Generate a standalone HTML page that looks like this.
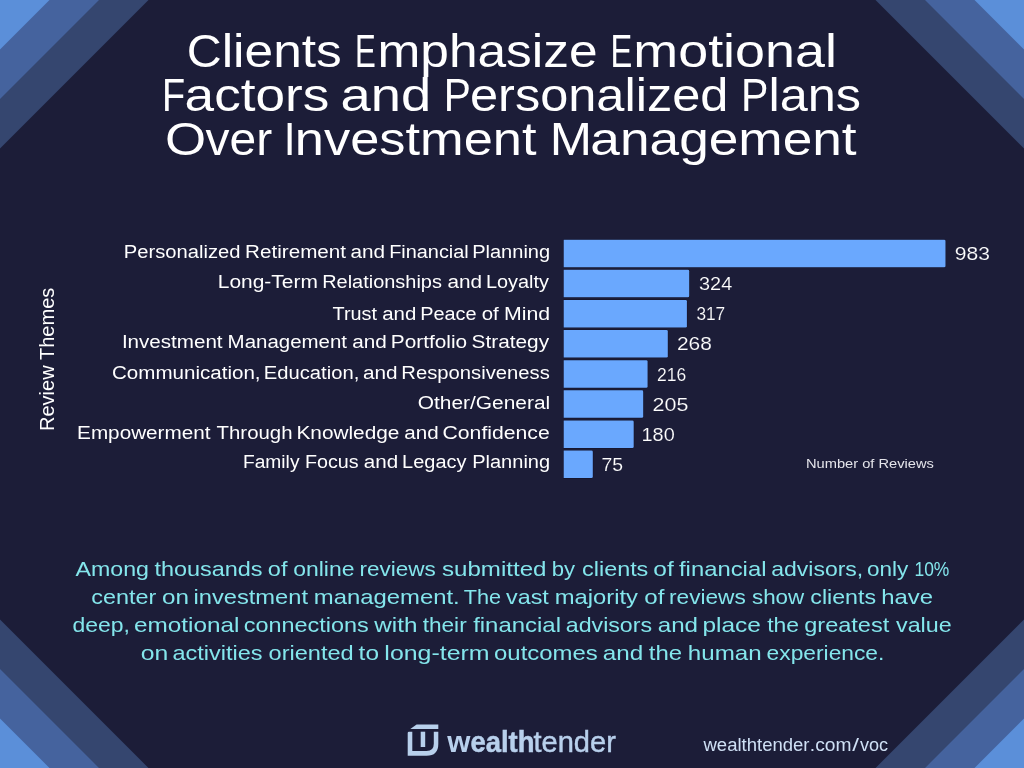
<!DOCTYPE html>
<html><head><meta charset="utf-8"><title>Clients Emphasize Emotional Factors</title>
<style>
html,body{margin:0;padding:0;background:#1c1d38}
body{width:1024px;height:768px;overflow:hidden}
svg{display:block;will-change:transform;font-family:"Liberation Sans",sans-serif}
</style></head><body>
<svg width="1024" height="768" viewBox="0 0 1024 768">
<rect width="1024" height="768" fill="#1c1d38"/>
<path fill="#35466f" d="M0 0H148.5L0 148.5Z M1024 0H875.5L1024 148.5Z M0 768H148.5L0 619.5Z M1024 768H875.5L1024 619.5Z"/>
<path fill="#45639e" d="M0 0H99L0 99Z M1024 0H925L1024 99Z M0 768H99L0 669Z M1024 768H925L1024 669Z"/>
<path fill="#5b8fd9" d="M0 0H49.5L0 49.5Z M1024 0H974.5L1024 49.5Z M0 768H49.5L0 718.5Z M1024 768H974.5L1024 718.5Z"/>
<path fill="#6aa8fe" stroke="#151329" stroke-width="1" paint-order="stroke" d="M563.7 239.7H944.2Q945.5 239.7 945.5 241V265.9Q945.5 267.2 944.2 267.2H563.7Z"/>
<path fill="#6aa8fe" stroke="#151329" stroke-width="1" paint-order="stroke" d="M563.7 269.83H687.9Q689.2 269.83 689.2 271.13V296.03Q689.2 297.33 687.9 297.33H563.7Z"/>
<path fill="#6aa8fe" stroke="#151329" stroke-width="1" paint-order="stroke" d="M563.7 299.96H685.6Q686.9 299.96 686.9 301.26V326.16Q686.9 327.46 685.6 327.46H563.7Z"/>
<path fill="#6aa8fe" stroke="#151329" stroke-width="1" paint-order="stroke" d="M563.7 330.09H666.5Q667.8 330.09 667.8 331.39V356.29Q667.8 357.59 666.5 357.59H563.7Z"/>
<path fill="#6aa8fe" stroke="#151329" stroke-width="1" paint-order="stroke" d="M563.7 360.22H646.3Q647.6 360.22 647.6 361.52V386.42Q647.6 387.72 646.3 387.72H563.7Z"/>
<path fill="#6aa8fe" stroke="#151329" stroke-width="1" paint-order="stroke" d="M563.7 390.35H641.9Q643.2 390.35 643.2 391.65V416.55Q643.2 417.85 641.9 417.85H563.7Z"/>
<path fill="#6aa8fe" stroke="#151329" stroke-width="1" paint-order="stroke" d="M563.7 420.48H632.4Q633.7 420.48 633.7 421.78V446.68Q633.7 447.98 632.4 447.98H563.7Z"/>
<path fill="#6aa8fe" stroke="#151329" stroke-width="1" paint-order="stroke" d="M563.7 450.61H591.5Q592.8 450.61 592.8 451.91V476.81Q592.8 478.11 591.5 478.11H563.7Z"/>
<text x="186.83" y="66.6" font-size="45.6" fill="#fff" textLength="34.97" lengthAdjust="spacingAndGlyphs">C</text>
<text x="221.65" y="66.6" font-size="46.5" fill="#fff" textLength="120.15" lengthAdjust="spacingAndGlyphs">lients</text>
<text x="355.00" y="66.6" font-size="45.6" fill="#fff" textLength="20.81" lengthAdjust="spacingAndGlyphs">E</text>
<text x="377.41" y="66.6" font-size="46.5" fill="#fff" textLength="220.21" lengthAdjust="spacingAndGlyphs">mphasize</text>
<text x="610.39" y="66.6" font-size="45.6" fill="#fff" textLength="21.78" lengthAdjust="spacingAndGlyphs">E</text>
<text x="633.30" y="66.6" font-size="46.5" fill="#fff" textLength="203.65" lengthAdjust="spacingAndGlyphs">motional</text>
<text x="161.97" y="110.7" font-size="45.6" fill="#fff" textLength="23.14" lengthAdjust="spacingAndGlyphs">F</text>
<text x="184.62" y="110.7" font-size="46.5" fill="#fff" textLength="144.74" lengthAdjust="spacingAndGlyphs">actors</text>
<text x="340.63" y="110.7" font-size="46.5" fill="#fff" textLength="90.59" lengthAdjust="spacingAndGlyphs">and</text>
<text x="443.75" y="110.7" font-size="45.6" fill="#fff" textLength="27.12" lengthAdjust="spacingAndGlyphs">P</text>
<text x="469.98" y="110.7" font-size="46.5" fill="#fff" textLength="258.41" lengthAdjust="spacingAndGlyphs">ersonalized</text>
<text x="740.96" y="110.7" font-size="45.6" fill="#fff" textLength="27.43" lengthAdjust="spacingAndGlyphs">P</text>
<text x="768.47" y="110.7" font-size="46.5" fill="#fff" textLength="92.60" lengthAdjust="spacingAndGlyphs">lans</text>
<text x="165.12" y="154.9" font-size="45.6" fill="#fff" textLength="41.16" lengthAdjust="spacingAndGlyphs">O</text>
<text x="205.50" y="154.9" font-size="46.5" fill="#fff" textLength="66.62" lengthAdjust="spacingAndGlyphs">ver</text>
<text x="283.68" y="154.9" font-size="45.6" fill="#fff" textLength="11.81" lengthAdjust="spacingAndGlyphs">I</text>
<text x="294.85" y="154.9" font-size="46.5" fill="#fff" textLength="241.60" lengthAdjust="spacingAndGlyphs">nvestment</text>
<text x="549.69" y="154.9" font-size="45.6" fill="#fff" textLength="42.27" lengthAdjust="spacingAndGlyphs">M</text>
<text x="590.37" y="154.9" font-size="46.5" fill="#fff" textLength="266.28" lengthAdjust="spacingAndGlyphs">anagement</text>
<text x="123.89" y="258" font-size="17.6" fill="#fff" textLength="116.60" lengthAdjust="spacingAndGlyphs">Personalized</text>
<text x="245.10" y="258" font-size="17.6" fill="#fff" textLength="100.96" lengthAdjust="spacingAndGlyphs">Retirement</text>
<text x="350.42" y="258" font-size="17.6" fill="#fff" textLength="34.60" lengthAdjust="spacingAndGlyphs">and</text>
<text x="389.16" y="258" font-size="17.6" fill="#fff" textLength="79.58" lengthAdjust="spacingAndGlyphs">Financial</text>
<text x="472.15" y="258" font-size="17.6" fill="#fff" textLength="77.98" lengthAdjust="spacingAndGlyphs">Planning</text>
<text x="954.75" y="260" font-size="18" fill="#fff" stroke="#1c1d38" stroke-width="0.15" textLength="35.11" lengthAdjust="spacingAndGlyphs">983</text>
<text x="217.83" y="287.7" font-size="17.6" fill="#fff" textLength="99.99" lengthAdjust="spacingAndGlyphs">Long-Term</text>
<text x="322.15" y="287.7" font-size="17.6" fill="#fff" textLength="119.79" lengthAdjust="spacingAndGlyphs">Relationships</text>
<text x="447.42" y="287.7" font-size="17.6" fill="#fff" textLength="34.60" lengthAdjust="spacingAndGlyphs">and</text>
<text x="485.91" y="287.7" font-size="17.6" fill="#fff" textLength="62.99" lengthAdjust="spacingAndGlyphs">Loyalty</text>
<text x="699.00" y="290.13" font-size="18" fill="#fff" stroke="#1c1d38" stroke-width="0.15" textLength="33.22" lengthAdjust="spacingAndGlyphs">324</text>
<text x="332.60" y="319.8" font-size="17.6" fill="#fff" textLength="44.45" lengthAdjust="spacingAndGlyphs">Trust</text>
<text x="382.18" y="319.8" font-size="17.6" fill="#fff" textLength="34.07" lengthAdjust="spacingAndGlyphs">and</text>
<text x="420.16" y="319.8" font-size="17.6" fill="#fff" textLength="56.41" lengthAdjust="spacingAndGlyphs">Peace</text>
<text x="481.68" y="319.8" font-size="17.6" fill="#fff" textLength="17.02" lengthAdjust="spacingAndGlyphs">of</text>
<text x="504.05" y="319.8" font-size="17.6" fill="#fff" textLength="46.16" lengthAdjust="spacingAndGlyphs">Mind</text>
<text x="696.40" y="320.26" font-size="18" fill="#fff" stroke="#1c1d38" stroke-width="0.15" textLength="28.80" lengthAdjust="spacingAndGlyphs">317</text>
<text x="121.90" y="347.5" font-size="17.6" fill="#fff" textLength="100.66" lengthAdjust="spacingAndGlyphs">Investment</text>
<text x="227.61" y="347.5" font-size="17.6" fill="#fff" textLength="119.45" lengthAdjust="spacingAndGlyphs">Management</text>
<text x="352.17" y="347.5" font-size="17.6" fill="#fff" textLength="34.60" lengthAdjust="spacingAndGlyphs">and</text>
<text x="390.84" y="347.5" font-size="17.6" fill="#fff" textLength="76.27" lengthAdjust="spacingAndGlyphs">Portfolio</text>
<text x="471.56" y="347.5" font-size="17.6" fill="#fff" textLength="77.54" lengthAdjust="spacingAndGlyphs">Strategy</text>
<text x="676.95" y="350.39" font-size="18" fill="#fff" stroke="#1c1d38" stroke-width="0.15" textLength="34.91" lengthAdjust="spacingAndGlyphs">268</text>
<text x="111.97" y="378.7" font-size="17.6" fill="#fff" textLength="148.58" lengthAdjust="spacingAndGlyphs">Communication,</text>
<text x="263.89" y="378.7" font-size="17.6" fill="#fff" textLength="95.39" lengthAdjust="spacingAndGlyphs">Education,</text>
<text x="362.92" y="378.7" font-size="17.6" fill="#fff" textLength="34.60" lengthAdjust="spacingAndGlyphs">and</text>
<text x="401.38" y="378.7" font-size="17.6" fill="#fff" textLength="148.43" lengthAdjust="spacingAndGlyphs">Responsiveness</text>
<text x="656.93" y="380.52" font-size="18" fill="#fff" stroke="#1c1d38" stroke-width="0.15" textLength="29.20" lengthAdjust="spacingAndGlyphs">216</text>
<text x="417.81" y="408.7" font-size="17.6" fill="#fff" textLength="132.39" lengthAdjust="spacingAndGlyphs">Other/General</text>
<text x="652.63" y="410.65" font-size="18" fill="#fff" stroke="#1c1d38" stroke-width="0.15" textLength="35.86" lengthAdjust="spacingAndGlyphs">205</text>
<text x="77.09" y="438.8" font-size="17.6" fill="#fff" textLength="133.46" lengthAdjust="spacingAndGlyphs">Empowerment</text>
<text x="216.59" y="438.8" font-size="17.6" fill="#fff" textLength="75.90" lengthAdjust="spacingAndGlyphs">Through</text>
<text x="296.43" y="438.8" font-size="17.6" fill="#fff" textLength="103.02" lengthAdjust="spacingAndGlyphs">Knowledge</text>
<text x="404.28" y="438.8" font-size="17.6" fill="#fff" textLength="34.38" lengthAdjust="spacingAndGlyphs">and</text>
<text x="442.54" y="438.8" font-size="17.6" fill="#fff" textLength="107.23" lengthAdjust="spacingAndGlyphs">Confidence</text>
<text x="641.51" y="440.78" font-size="18" fill="#fff" stroke="#1c1d38" stroke-width="0.15" textLength="33.21" lengthAdjust="spacingAndGlyphs">180</text>
<text x="242.96" y="468.3" font-size="17.6" fill="#fff" textLength="56.54" lengthAdjust="spacingAndGlyphs">Family</text>
<text x="304.92" y="468.3" font-size="17.6" fill="#fff" textLength="53.67" lengthAdjust="spacingAndGlyphs">Focus</text>
<text x="363.88" y="468.3" font-size="17.6" fill="#fff" textLength="34.38" lengthAdjust="spacingAndGlyphs">and</text>
<text x="402.10" y="468.3" font-size="17.6" fill="#fff" textLength="64.40" lengthAdjust="spacingAndGlyphs">Legacy</text>
<text x="472.20" y="468.3" font-size="17.6" fill="#fff" textLength="77.93" lengthAdjust="spacingAndGlyphs">Planning</text>
<text x="601.43" y="470.91" font-size="18" fill="#fff" stroke="#1c1d38" stroke-width="0.15" textLength="21.57" lengthAdjust="spacingAndGlyphs">75</text>
<text x="806.03" y="468.1" font-size="13.5" fill="#e4e4ea" textLength="127.89" lengthAdjust="spacingAndGlyphs">Number of Reviews</text>
<text x="75.50" y="576" font-size="21" fill="#84e6ec" textLength="73.42" lengthAdjust="spacingAndGlyphs">Among</text>
<text x="154.40" y="576" font-size="21" fill="#84e6ec" textLength="108.17" lengthAdjust="spacingAndGlyphs">thousands</text>
<text x="267.81" y="576" font-size="21" fill="#84e6ec" textLength="19.64" lengthAdjust="spacingAndGlyphs">of</text>
<text x="293.18" y="576" font-size="21" fill="#84e6ec" textLength="61.26" lengthAdjust="spacingAndGlyphs">online</text>
<text x="359.54" y="576" font-size="21" fill="#84e6ec" textLength="76.35" lengthAdjust="spacingAndGlyphs">reviews</text>
<text x="442.00" y="576" font-size="21" fill="#84e6ec" textLength="104.48" lengthAdjust="spacingAndGlyphs">submitted</text>
<text x="551.67" y="576" font-size="21" fill="#84e6ec" textLength="23.33" lengthAdjust="spacingAndGlyphs">by</text>
<text x="582.07" y="576" font-size="21" fill="#84e6ec" textLength="66.25" lengthAdjust="spacingAndGlyphs">clients</text>
<text x="653.27" y="576" font-size="21" fill="#84e6ec" textLength="20.43" lengthAdjust="spacingAndGlyphs">of</text>
<text x="679.01" y="576" font-size="21" fill="#84e6ec" textLength="87.47" lengthAdjust="spacingAndGlyphs">financial</text>
<text x="771.28" y="576" font-size="21" fill="#84e6ec" textLength="91.99" lengthAdjust="spacingAndGlyphs">advisors,</text>
<text x="866.90" y="576" font-size="21" fill="#84e6ec" textLength="41.35" lengthAdjust="spacingAndGlyphs">only</text>
<text x="914.44" y="576" font-size="21" fill="#84e6ec" textLength="34.90" lengthAdjust="spacingAndGlyphs">10%</text>
<text x="91.31" y="604" font-size="21" fill="#84e6ec" textLength="64.99" lengthAdjust="spacingAndGlyphs">center</text>
<text x="162.03" y="604" font-size="21" fill="#84e6ec" textLength="26.95" lengthAdjust="spacingAndGlyphs">on</text>
<text x="193.46" y="604" font-size="21" fill="#84e6ec" textLength="114.51" lengthAdjust="spacingAndGlyphs">investment</text>
<text x="313.85" y="604" font-size="21" fill="#84e6ec" textLength="145.85" lengthAdjust="spacingAndGlyphs">management.</text>
<text x="463.67" y="604" font-size="21" fill="#84e6ec" textLength="37.32" lengthAdjust="spacingAndGlyphs">The</text>
<text x="506.10" y="604" font-size="21" fill="#84e6ec" textLength="42.72" lengthAdjust="spacingAndGlyphs">vast</text>
<text x="554.70" y="604" font-size="21" fill="#84e6ec" textLength="83.30" lengthAdjust="spacingAndGlyphs">majority</text>
<text x="644.24" y="604" font-size="21" fill="#84e6ec" textLength="20.11" lengthAdjust="spacingAndGlyphs">of</text>
<text x="669.03" y="604" font-size="21" fill="#84e6ec" textLength="76.76" lengthAdjust="spacingAndGlyphs">reviews</text>
<text x="751.94" y="604" font-size="21" fill="#84e6ec" textLength="52.25" lengthAdjust="spacingAndGlyphs">show</text>
<text x="810.32" y="604" font-size="21" fill="#84e6ec" textLength="65.69" lengthAdjust="spacingAndGlyphs">clients</text>
<text x="881.15" y="604" font-size="21" fill="#84e6ec" textLength="51.84" lengthAdjust="spacingAndGlyphs">have</text>
<text x="72.58" y="632" font-size="21" fill="#84e6ec" textLength="57.43" lengthAdjust="spacingAndGlyphs">deep,</text>
<text x="134.03" y="632" font-size="21" fill="#84e6ec" textLength="105.49" lengthAdjust="spacingAndGlyphs">emotional</text>
<text x="243.81" y="632" font-size="21" fill="#84e6ec" textLength="125.01" lengthAdjust="spacingAndGlyphs">connections</text>
<text x="374.37" y="632" font-size="21" fill="#84e6ec" textLength="43.11" lengthAdjust="spacingAndGlyphs">with</text>
<text x="422.66" y="632" font-size="21" fill="#84e6ec" textLength="44.03" lengthAdjust="spacingAndGlyphs">their</text>
<text x="473.16" y="632" font-size="21" fill="#84e6ec" textLength="87.83" lengthAdjust="spacingAndGlyphs">financial</text>
<text x="565.82" y="632" font-size="21" fill="#84e6ec" textLength="86.24" lengthAdjust="spacingAndGlyphs">advisors</text>
<text x="657.78" y="632" font-size="21" fill="#84e6ec" textLength="40.29" lengthAdjust="spacingAndGlyphs">and</text>
<text x="702.44" y="632" font-size="21" fill="#84e6ec" textLength="58.37" lengthAdjust="spacingAndGlyphs">place</text>
<text x="767.16" y="632" font-size="21" fill="#84e6ec" textLength="31.89" lengthAdjust="spacingAndGlyphs">the</text>
<text x="804.26" y="632" font-size="21" fill="#84e6ec" textLength="85.01" lengthAdjust="spacingAndGlyphs">greatest</text>
<text x="896.00" y="632" font-size="21" fill="#84e6ec" textLength="55.66" lengthAdjust="spacingAndGlyphs">value</text>
<text x="140.76" y="660" font-size="21" fill="#84e6ec" textLength="27.50" lengthAdjust="spacingAndGlyphs">on</text>
<text x="172.56" y="660" font-size="21" fill="#84e6ec" textLength="90.01" lengthAdjust="spacingAndGlyphs">activities</text>
<text x="268.56" y="660" font-size="21" fill="#84e6ec" textLength="85.13" lengthAdjust="spacingAndGlyphs">oriented</text>
<text x="358.63" y="660" font-size="21" fill="#84e6ec" textLength="20.37" lengthAdjust="spacingAndGlyphs">to</text>
<text x="384.38" y="660" font-size="21" fill="#84e6ec" textLength="105.19" lengthAdjust="spacingAndGlyphs">long-term</text>
<text x="494.04" y="660" font-size="21" fill="#84e6ec" textLength="103.80" lengthAdjust="spacingAndGlyphs">outcomes</text>
<text x="602.78" y="660" font-size="21" fill="#84e6ec" textLength="40.45" lengthAdjust="spacingAndGlyphs">and</text>
<text x="648.89" y="660" font-size="21" fill="#84e6ec" textLength="33.35" lengthAdjust="spacingAndGlyphs">the</text>
<text x="687.83" y="660" font-size="21" fill="#84e6ec" textLength="73.74" lengthAdjust="spacingAndGlyphs">human</text>
<text x="766.59" y="660" font-size="21" fill="#84e6ec" textLength="117.81" lengthAdjust="spacingAndGlyphs">experience.</text>
<text x="447.35" y="751.7" font-size="29" fill="#b8d0ec" font-weight="bold" textLength="23.19" lengthAdjust="spacingAndGlyphs">w</text>
<text x="470.44" y="751.7" font-size="29" fill="#b8d0ec" font-weight="bold" stroke="#b8d0ec" stroke-width="0.5" textLength="64.03" lengthAdjust="spacingAndGlyphs">ealth</text>
<text x="533.46" y="751.7" font-size="29" fill="#b8d0ec" stroke="#b8d0ec" stroke-width="0.45" textLength="82.41" lengthAdjust="spacingAndGlyphs">tender</text>
<text x="703.49" y="751" font-size="17.5" fill="#cfe0f5" textLength="106.05" lengthAdjust="spacingAndGlyphs">wealthtender</text>
<text x="809.87" y="751" font-size="17.5" fill="#cfe0f5" textLength="41.64" lengthAdjust="spacingAndGlyphs">.com</text>
<text x="852.30" y="751" font-size="17.5" fill="#cfe0f5" textLength="6.75" lengthAdjust="spacingAndGlyphs">/</text>
<text x="860.00" y="751" font-size="17.5" fill="#cfe0f5" textLength="28.15" lengthAdjust="spacingAndGlyphs">voc</text>
<text x="-431.10" y="53.6" font-size="19.5" fill="#fff" transform="rotate(-90)" textLength="143.50" lengthAdjust="spacingAndGlyphs">Review Themes</text>
<g fill="#b8d0ec">
<path d="M416.6 724.6H438.3V729H410.3Z"/>
<path d="M409 731.7H412.3V751H426.5Q433.8 751 433.8 743.7V731.7H438.3V744Q438.3 755.8 426.5 755.8H407.7V733Q407.7 731.7 409 731.7Z"/>
<rect x="420.7" y="731.7" width="4.5" height="15.3"/>
</g>
</svg>
</body></html>
